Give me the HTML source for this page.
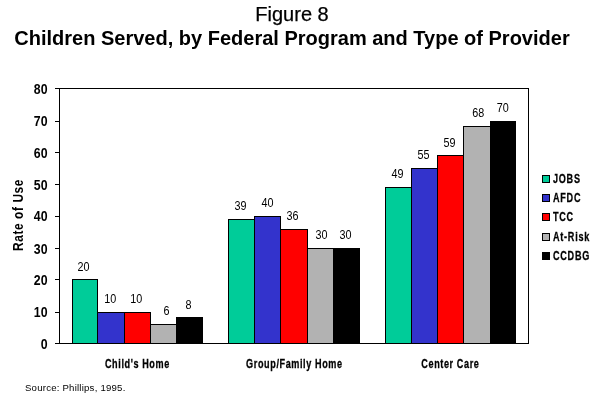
<!DOCTYPE html>
<html><head><meta charset="utf-8"><style>
html,body{margin:0;padding:0;background:#fff;}
body{width:596px;height:409px;overflow:hidden;}
svg{display:block;will-change:transform;}
text{font-family:"Liberation Sans",sans-serif;fill:#000;}
.dl{font-size:12px;text-anchor:middle;}
.yl{font-size:14px;font-weight:700;text-anchor:end;}
.cl{font-size:13px;font-weight:700;text-anchor:middle;letter-spacing:0.85px;stroke:#000;stroke-width:0.3px;}
.lg{font-size:13px;font-weight:700;letter-spacing:1.05px;stroke:#000;stroke-width:0.3px;}
.at{font-size:14px;font-weight:700;text-anchor:middle;letter-spacing:0.7px;}
.t1{font-size:20px;stroke:#000;stroke-width:0.25px;text-anchor:middle;}
.t2{font-size:20px;font-weight:700;text-anchor:middle;}
.src{font-size:9.6px;letter-spacing:0.22px;}
</style></head><body>
<svg width="596" height="409" viewBox="0 0 596 409">
<rect x="59.5" y="88.5" width="469" height="255" fill="none" stroke="#000" stroke-width="1"/>
<rect x="55" y="88" width="5" height="1" fill="#000"/>
<rect x="55" y="121" width="5" height="1" fill="#000"/>
<rect x="55" y="152" width="5" height="1" fill="#000"/>
<rect x="55" y="184" width="5" height="1" fill="#000"/>
<rect x="55" y="216" width="5" height="1" fill="#000"/>
<rect x="55" y="248" width="5" height="1" fill="#000"/>
<rect x="55" y="279" width="5" height="1" fill="#000"/>
<rect x="55" y="312" width="5" height="1" fill="#000"/>
<rect x="55" y="343" width="5" height="1" fill="#000"/>
<rect x="72" y="279" width="26" height="65" fill="#000"/>
<rect x="73" y="280" width="24" height="63" fill="#00CC99"/>
<rect x="97" y="312" width="28" height="32" fill="#000"/>
<rect x="98" y="313" width="26" height="30" fill="#3333CC"/>
<rect x="124" y="312" width="27" height="32" fill="#000"/>
<rect x="125" y="313" width="25" height="30" fill="#FF0000"/>
<rect x="150" y="324" width="27" height="20" fill="#000"/>
<rect x="151" y="325" width="25" height="18" fill="#B2B2B2"/>
<rect x="176" y="317" width="27" height="27" fill="#000"/>
<rect x="177" y="318" width="25" height="25" fill="#000000"/>
<rect x="228" y="219" width="27" height="125" fill="#000"/>
<rect x="229" y="220" width="25" height="123" fill="#00CC99"/>
<rect x="254" y="216" width="27" height="128" fill="#000"/>
<rect x="255" y="217" width="25" height="126" fill="#3333CC"/>
<rect x="280" y="229" width="28" height="115" fill="#000"/>
<rect x="281" y="230" width="26" height="113" fill="#FF0000"/>
<rect x="307" y="248" width="27" height="96" fill="#000"/>
<rect x="308" y="249" width="25" height="94" fill="#B2B2B2"/>
<rect x="333" y="248" width="27" height="96" fill="#000"/>
<rect x="334" y="249" width="25" height="94" fill="#000000"/>
<rect x="385" y="187" width="27" height="157" fill="#000"/>
<rect x="386" y="188" width="25" height="155" fill="#00CC99"/>
<rect x="411" y="168" width="27" height="176" fill="#000"/>
<rect x="412" y="169" width="25" height="174" fill="#3333CC"/>
<rect x="437" y="155" width="27" height="189" fill="#000"/>
<rect x="438" y="156" width="25" height="187" fill="#FF0000"/>
<rect x="463" y="126" width="28" height="218" fill="#000"/>
<rect x="464" y="127" width="26" height="216" fill="#B2B2B2"/>
<rect x="490" y="121" width="26" height="223" fill="#000"/>
<rect x="491" y="122" width="24" height="221" fill="#000000"/>
<text class="dl" transform="translate(83.5,271) scale(0.9,1)">20</text>
<text class="dl" transform="translate(110.3,303) scale(0.9,1)">10</text>
<text class="dl" transform="translate(136.3,303) scale(0.9,1)">10</text>
<text class="dl" transform="translate(166.5,315) scale(0.9,1)">6</text>
<text class="dl" transform="translate(188.5,309) scale(0.9,1)">8</text>
<text class="dl" transform="translate(240.5,210) scale(0.9,1)">39</text>
<text class="dl" transform="translate(267.6,207) scale(0.9,1)">40</text>
<text class="dl" transform="translate(292.4,220) scale(0.9,1)">36</text>
<text class="dl" transform="translate(321.5,239) scale(0.9,1)">30</text>
<text class="dl" transform="translate(345.4,239) scale(0.9,1)">30</text>
<text class="dl" transform="translate(397.5,178) scale(0.9,1)">49</text>
<text class="dl" transform="translate(423.5,159) scale(0.9,1)">55</text>
<text class="dl" transform="translate(449.5,147) scale(0.9,1)">59</text>
<text class="dl" transform="translate(478.3,117) scale(0.9,1)">68</text>
<text class="dl" transform="translate(502.7,112) scale(0.9,1)">70</text>
<text class="yl" transform="translate(47.5,94) scale(0.88,1)">80</text>
<text class="yl" transform="translate(47.5,126) scale(0.88,1)">70</text>
<text class="yl" transform="translate(47.5,158) scale(0.88,1)">60</text>
<text class="yl" transform="translate(47.5,190) scale(0.88,1)">50</text>
<text class="yl" transform="translate(47.5,221) scale(0.88,1)">40</text>
<text class="yl" transform="translate(47.5,254) scale(0.88,1)">30</text>
<text class="yl" transform="translate(47.5,285) scale(0.88,1)">20</text>
<text class="yl" transform="translate(47.5,317) scale(0.88,1)">10</text>
<text class="yl" transform="translate(47.5,349) scale(0.88,1)">0</text>
<text class="cl" transform="translate(137.4,368) scale(0.7,1)">Child's Home</text>
<text class="cl" transform="translate(294.4,368) scale(0.7,1)">Group/Family Home</text>
<text class="cl" transform="translate(450.4,368) scale(0.7,1)">Center Care</text>
<rect x="542" y="175" width="8" height="8" fill="#000"/>
<rect x="543" y="176" width="6" height="6" fill="#00CC99"/>
<text class="lg" transform="translate(553,183) scale(0.7,1)">JOBS</text>
<rect x="542" y="194" width="8" height="8" fill="#000"/>
<rect x="543" y="195" width="6" height="6" fill="#3333CC"/>
<text class="lg" transform="translate(553,202) scale(0.7,1)">AFDC</text>
<rect x="542" y="213" width="8" height="8" fill="#000"/>
<rect x="543" y="214" width="6" height="6" fill="#FF0000"/>
<text class="lg" transform="translate(553,221) scale(0.7,1)">TCC</text>
<rect x="542" y="233" width="8" height="8" fill="#000"/>
<rect x="543" y="234" width="6" height="6" fill="#B2B2B2"/>
<text class="lg" transform="translate(553,241) scale(0.7,1)">At-Risk</text>
<rect x="542" y="252" width="8" height="8" fill="#000"/>
<rect x="543" y="253" width="6" height="6" fill="#000000"/>
<text class="lg" transform="translate(553,260) scale(0.7,1)">CCDBG</text>
<text class="at" transform="translate(23,215) rotate(-90) scale(0.85,1)">Rate of Use</text>
<text class="t1" x="292" y="21">Figure 8</text>
<text class="t2" x="292" y="45">Children Served, by Federal Program and Type of Provider</text>
<text class="src" x="25" y="391">Source: Phillips, 1995.</text>
</svg>
</body></html>
